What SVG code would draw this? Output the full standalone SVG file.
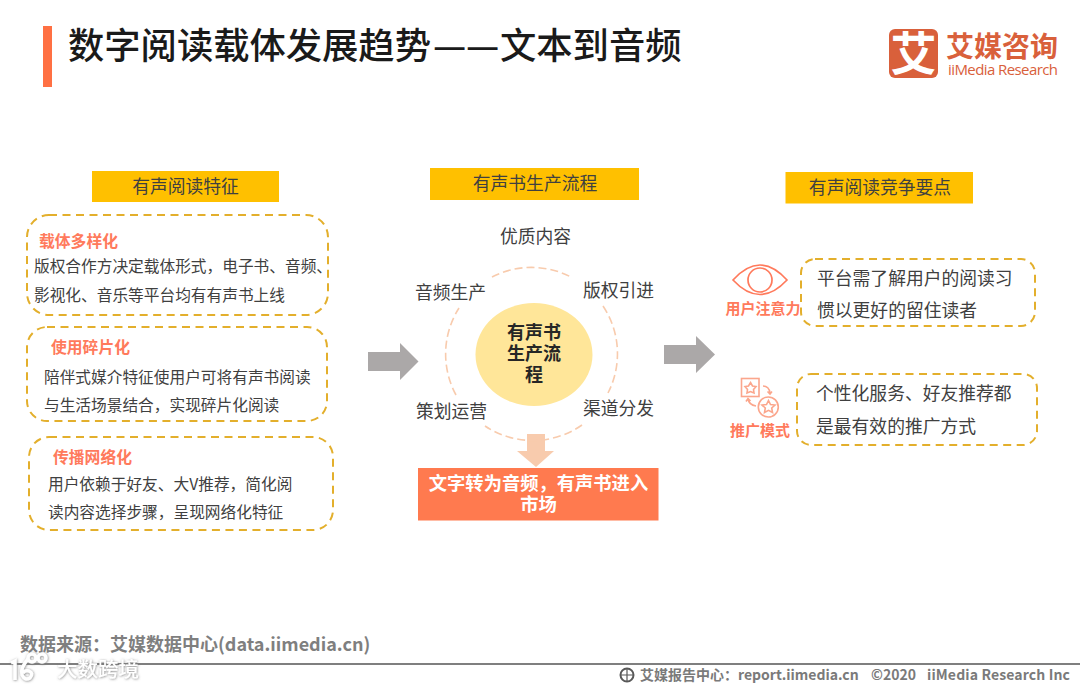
<svg xmlns="http://www.w3.org/2000/svg" width="1080" height="688" viewBox="0 0 1080 688">
<style>
text{font-family:"Noto Sans CJK SC","Liberation Sans",sans-serif;}
.hd{fill:#FFC000;}
.hdt{font-size:17.8px;fill:#404040;text-anchor:middle;}
.box{fill:#fff;stroke:#E3AF2C;stroke-width:2;stroke-dasharray:8 5.5;}
.sub{font-size:15.8px;font-weight:700;fill:#FF7A5C;}
.bd{font-size:15.7px;fill:#404040;}
.lb{font-size:17.8px;fill:#404040;text-anchor:middle;}
.rt{font-size:17.8px;fill:#404040;}
.ic{font-size:15px;font-weight:700;fill:#FF7A5C;text-anchor:middle;}
.arr{fill:#ABA8A8;}
.ring{fill:none;stroke:#F8CBAD;stroke-width:1.6;stroke-dasharray:8 4;}
.ft{font-size:14px;font-weight:700;fill:#7a7a7a;}
.ln{fill:none;stroke:#FF7A5C;stroke-width:1.7;}
.ln2{fill:none;stroke:#FBA68C;stroke-width:1.6;}
.wm{fill:none;stroke:#fff;stroke-width:3.500;}
</style>
<defs>
<filter id="glow" x="-20%" y="-40%" width="140%" height="180%"><feDropShadow dx="0.500" dy="0.500" stdDeviation="1.200" flood-color="#777" flood-opacity="0.900"/></filter>
</defs>
<rect width="1080" height="688" fill="#fff"/>
<g id="title">
<rect x="43" y="26" width="9" height="61" fill="#FF7043"/>
<text x="68" y="59" font-size="36.300" font-weight="500" fill="#1a1a1a">数字阅读载体发展趋势<tspan x="433 466" font-size="37">——</tspan><tspan x="500">文本到音频</tspan></text>
</g>
<g id="logo">
<rect x="889" y="29" width="49" height="49" rx="6" fill="#D9603B"/>
<text x="913.500" y="70" font-size="46" font-weight="700" fill="#fff" text-anchor="middle">艾</text>
<text x="946" y="57" font-size="28" font-weight="700" fill="#D9603B">艾媒咨询</text>
<text x="948" y="75" font-size="15" font-weight="400" fill="#D9603B" style="font-family:'Open Sans','Liberation Sans',sans-serif" textLength="110">iiMedia Research</text>
</g>
<g id="header-left"><rect class="hd" x="92" y="171" width="187" height="31"/><text class="hdt" x="185.500" y="192.500">有声阅读特征</text></g>
<g id="header-center"><rect class="hd" x="430" y="168" width="209" height="32"/><text class="hdt" x="535" y="189.500">有声书生产流程</text></g>
<g id="header-right"><rect class="hd" x="785.500" y="172" width="187.500" height="31.500"/><text class="hdt" x="880" y="193.500">有声阅读竞争要点</text></g>

<g id="feature-1">
<rect class="box" x="27" y="215" width="301" height="100" rx="22"/>
<text class="sub" x="39" y="246.500">载体多样化</text>
<text class="bd" x="34" y="271.500">版权合作方决定载体形式，电子书、音频、</text>
<text class="bd" x="34" y="300.500">影视化、音乐等平台均有有声书上线</text>
</g>
<g id="feature-2">
<rect class="box" x="27" y="327" width="300" height="94" rx="20"/>
<text class="sub" x="51" y="352.500">使用碎片化</text>
<text class="bd" x="44" y="382.500">陪伴式媒介特征使用户可将有声书阅读</text>
<text class="bd" x="44" y="411">与生活场景结合，实现碎片化阅读</text>
</g>
<g id="feature-3">
<rect class="box" x="29" y="437" width="304" height="93" rx="20"/>
<text class="sub" x="53" y="463">传播网络化</text>
<text class="bd" x="48" y="489.500">用户依赖于好友、大V推荐，简化阅</text>
<text class="bd" x="48" y="518">读内容选择步骤，呈现网络化特征</text>
</g>

<g id="connectors">
<path class="arr" d="M368 352H400V343L418.500 361.500L400 380V371H368Z"/>
<path class="arr" d="M664 345H696V336L715 354.500L696 373V364H664Z"/>
<path d="M527 434H545V451H554L536 467L517 451H527Z" fill="#F8CBAD"/>
</g>

<g id="process-ring">
<path class="ring" d="M492 277A86 86 0 0 1 571 277"/>
<path class="ring" d="M603 306A86 86 0 0 1 608 393"/>
<path class="ring" d="M582 425A86 86 0 0 1 485 426"/>
<path class="ring" d="M456 395A86 86 0 0 1 459 308"/>
</g>
<g id="process-center">
<ellipse cx="534" cy="354.500" rx="58.500" ry="51.500" fill="#FFE699"/>
<text x="534" y="339" font-size="18" font-weight="700" fill="#262626" text-anchor="middle">有声书</text>
<text x="534" y="360" font-size="18" font-weight="700" fill="#262626" text-anchor="middle">生产流</text>
<text x="534" y="381" font-size="18" font-weight="700" fill="#262626" text-anchor="middle">程</text>
</g>
<g id="step-1"><text class="lb" x="535.500" y="242.500">优质内容</text></g>
<g id="step-2"><text class="lb" x="618.500" y="296.500">版权引进</text></g>
<g id="step-3"><text class="lb" x="618.500" y="414.500">渠道分发</text></g>
<g id="step-4"><text class="lb" x="451.500" y="417.500">策划运营</text></g>
<g id="step-5"><text class="lb" x="450.500" y="298.500">音频生产</text></g>
<g id="result">
<rect x="418" y="468" width="240.500" height="52.500" fill="#FF7A4F"/>
<text x="538.500" y="489.500" font-size="18.300" font-weight="700" fill="#fff" text-anchor="middle">文字转为音频，有声书进入</text>
<text x="538.500" y="510.500" font-size="18.300" font-weight="700" fill="#fff" text-anchor="middle">市场</text>
</g>

<g id="point-1">
<path class="ln" d="M733 280Q760 250 787 280Q760 309 733 280Z"/>
<circle class="ln" cx="760" cy="280" r="12"/>
<text class="ic" x="763" y="313.500">用户注意力</text>
<rect class="box" x="801" y="259" width="234" height="67" rx="14"/>
<text class="rt" x="817" y="284.500">平台需了解用户的阅读习</text>
<text class="rt" x="817" y="317">惯以更好的留住读者</text>
</g>
<g id="point-2">
<rect class="ln2" x="741.500" y="378.500" width="17.500" height="18"/>
<path class="ln2" d="M750.500 382.500L752.500 386L756 386.500L753.500 389.500L754 393L750.500 391.500L747 393L747.500 389.500L745 386.500L748.500 386Z"/>
<circle class="ln2" cx="768.300" cy="407" r="10"/>
<path class="ln2" d="M768.500 400.500L770.500 404.500L775 405L771.700 408L772.500 412.500L768.500 410.300L764.500 412.500L765.300 408L762 405L766.500 404.500Z"/>
<path class="ln2" d="M763 386Q769 386 770 393M767.500 391.500L770 394L772 391.500"/>
<path class="ln2" d="M756 406Q749 405 748 399M746 401.500L748 398.500L750.500 401"/>
<text class="ic" x="760" y="435.500">推广模式</text>
<rect class="box" x="797" y="374" width="240" height="71" rx="14"/>
<text class="rt" x="816" y="400">个性化服务、好友推荐都</text>
<text class="rt" x="816" y="433">是最有效的推广方式</text>
</g>

<g id="footer">
<text x="20" y="650.500" font-size="18" font-weight="700" fill="#7f7f7f">数据来源：艾媒数据中心(data.iimedia.cn)</text>
<rect x="0" y="663" width="1080" height="2" fill="#7f7f7f"/>
<circle cx="627" cy="675" r="6.500" fill="none" stroke="#595959" stroke-width="2"/>
<path d="M620.500 675H633.500M627 668.500V681.500" stroke="#595959" stroke-width="1.200" fill="none"/>
<text class="ft" x="640" y="680">艾媒报告中心：report.iimedia.cn</text>
<text class="ft" x="871" y="680">©2020</text>
<text class="ft" x="927" y="680" textLength="143">iiMedia Research  Inc</text>
</g>
<g id="watermark" filter="url(#glow)">
<path class="wm" d="M11 663L15 661V680"/>
<path class="wm" d="M28 659Q20 668 22 675Q25 681 30 678Q34 673 29 671Q25 670 23 673"/>
<circle class="wm" cx="32" cy="658" r="4" stroke-width="1.800"/>
<circle class="wm" cx="42" cy="658" r="4" stroke-width="1.800"/>
<text x="57" y="677" font-size="20.500" font-weight="500" fill="#fff">大数跨境</text>
</g>
</svg>
